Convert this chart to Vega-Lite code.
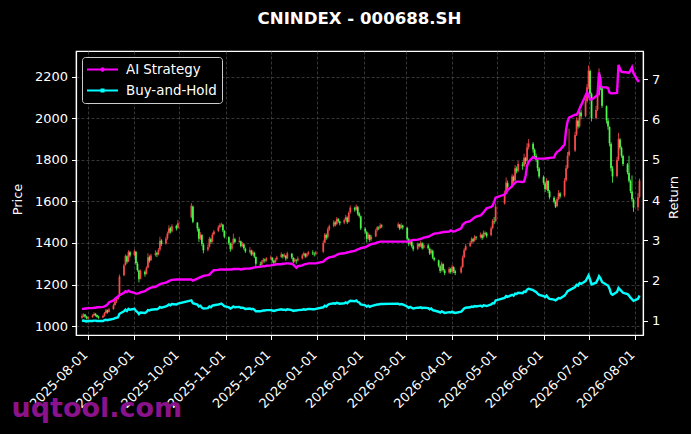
{
  "$schema": "https://vega.github.io/schema/vega-lite/v6.json",
  "width": 567,
  "height": 284,
  "autosize": "none",
  "padding": {"left": 76, "top": 51, "right": 48, "bottom": 99},
  "background": "#000000",
  "title": {
    "text": "CNINDEX - 000688.SH",
    "color": "#ffffff",
    "font": "DejaVu Sans",
    "fontSize": 16.6,
    "fontWeight": "bold",
    "anchor": "middle",
    "offset": 23
  },
  "config": {
    "view": {"stroke": "#ffffff", "strokeWidth": 1.2},
    "axis": {
      "labelFont": "DejaVu Sans",
      "labelFontSize": 13,
      "labelColor": "#ffffff",
      "titleFont": "DejaVu Sans",
      "titleFontSize": 13,
      "titleColor": "#ffffff",
      "titleFontWeight": "normal",
      "tickColor": "#ffffff",
      "tickSize": 4.5,
      "tickWidth": 1,
      "domainColor": "#ffffff",
      "domainWidth": 1.2,
      "gridColor": "#5a5a5a",
      "gridDash": [3, 2],
      "gridWidth": 0.6,
      "labelPadding": 4
    }
  },
  "data": {
    "values": [
      {"d":"2025-07-28","o":1040,"h":1060,"l":1035,"c":1048,"a":1.30,"b":1.00},
      {"d":"2025-07-29","o":1046,"h":1062,"l":1042,"c":1055,"a":1.30,"b":1.01},
      {"d":"2025-07-30","o":1056,"h":1058,"l":1040,"c":1046,"a":1.31,"b":1.00},
      {"d":"2025-07-31","o":1045,"h":1050,"l":1032,"c":1038,"a":1.31,"b":0.99},
      {"d":"2025-08-01","o":1036,"h":1048,"l":1030,"c":1042,"a":1.32,"b":1.00},
      {"d":"2025-08-04","o":1043,"h":1056,"l":1040,"c":1050,"a":1.32,"b":1.00},
      {"d":"2025-08-05","o":1051,"h":1066,"l":1048,"c":1058,"a":1.33,"b":1.01},
      {"d":"2025-08-06","o":1060,"h":1062,"l":1046,"c":1052,"a":1.33,"b":1.01},
      {"d":"2025-08-07","o":1053,"h":1055,"l":1040,"c":1045,"a":1.34,"b":1.00},
      {"d":"2025-08-08","o":1046,"h":1050,"l":1035,"c":1040,"a":1.34,"b":1.00},
      {"d":"2025-08-11","o":1041,"h":1055,"l":1038,"c":1048,"a":1.35,"b":1.00},
      {"d":"2025-08-12","o":1049,"h":1068,"l":1045,"c":1062,"a":1.36,"b":1.02},
      {"d":"2025-08-13","o":1063,"h":1082,"l":1058,"c":1075,"a":1.38,"b":1.03},
      {"d":"2025-08-14","o":1076,"h":1080,"l":1060,"c":1068,"a":1.41,"b":1.02},
      {"d":"2025-08-15","o":1069,"h":1088,"l":1065,"c":1080,"a":1.46,"b":1.03},
      {"d":"2025-08-18","o":1082,"h":1108,"l":1078,"c":1100,"a":1.51,"b":1.05},
      {"d":"2025-08-19","o":1102,"h":1125,"l":1098,"c":1118,"a":1.55,"b":1.07},
      {"d":"2025-08-20","o":1119,"h":1140,"l":1110,"c":1128,"a":1.58,"b":1.08},
      {"d":"2025-08-21","o":1130,"h":1150,"l":1125,"c":1142,"a":1.60,"b":1.09},
      {"d":"2025-08-22","o":1145,"h":1248,"l":1140,"c":1238,"a":1.64,"b":1.18},
      {"d":"2025-08-25","o":1245,"h":1300,"l":1240,"c":1292,"a":1.70,"b":1.24},
      {"d":"2025-08-26","o":1295,"h":1345,"l":1290,"c":1338,"a":1.74,"b":1.28},
      {"d":"2025-08-27","o":1336,"h":1340,"l":1300,"c":1310,"a":1.72,"b":1.25},
      {"d":"2025-08-28","o":1312,"h":1365,"l":1308,"c":1356,"a":1.75,"b":1.30},
      {"d":"2025-08-29","o":1355,"h":1362,"l":1330,"c":1340,"a":1.73,"b":1.28},
      {"d":"2025-09-01","o":1342,"h":1368,"l":1335,"c":1360,"a":1.70,"b":1.30},
      {"d":"2025-09-02","o":1358,"h":1360,"l":1295,"c":1302,"a":1.68,"b":1.25},
      {"d":"2025-09-03","o":1300,"h":1310,"l":1262,"c":1270,"a":1.68,"b":1.22},
      {"d":"2025-09-04","o":1268,"h":1272,"l":1210,"c":1225,"a":1.69,"b":1.17},
      {"d":"2025-09-05","o":1228,"h":1272,"l":1225,"c":1265,"a":1.71,"b":1.21},
      {"d":"2025-09-08","o":1262,"h":1268,"l":1238,"c":1250,"a":1.74,"b":1.20},
      {"d":"2025-09-09","o":1252,"h":1288,"l":1248,"c":1280,"a":1.77,"b":1.22},
      {"d":"2025-09-10","o":1282,"h":1350,"l":1278,"c":1330,"a":1.79,"b":1.27},
      {"d":"2025-09-11","o":1332,"h":1340,"l":1305,"c":1315,"a":1.81,"b":1.26},
      {"d":"2025-09-12","o":1318,"h":1348,"l":1312,"c":1340,"a":1.83,"b":1.28},
      {"d":"2025-09-15","o":1342,"h":1365,"l":1335,"c":1350,"a":1.85,"b":1.29},
      {"d":"2025-09-16","o":1352,"h":1358,"l":1332,"c":1345,"a":1.87,"b":1.29},
      {"d":"2025-09-17","o":1346,"h":1375,"l":1340,"c":1365,"a":1.89,"b":1.31},
      {"d":"2025-09-18","o":1368,"h":1430,"l":1360,"c":1410,"a":1.91,"b":1.35},
      {"d":"2025-09-19","o":1412,"h":1418,"l":1385,"c":1395,"a":1.93,"b":1.33},
      {"d":"2025-09-22","o":1398,"h":1430,"l":1392,"c":1420,"a":1.95,"b":1.36},
      {"d":"2025-09-23","o":1422,"h":1455,"l":1415,"c":1445,"a":1.97,"b":1.38},
      {"d":"2025-09-24","o":1448,"h":1485,"l":1440,"c":1470,"a":1.99,"b":1.41},
      {"d":"2025-09-25","o":1472,"h":1478,"l":1445,"c":1455,"a":2.01,"b":1.39},
      {"d":"2025-09-26","o":1456,"h":1490,"l":1450,"c":1480,"a":2.02,"b":1.42},
      {"d":"2025-09-29","o":1482,"h":1488,"l":1460,"c":1470,"a":2.03,"b":1.41},
      {"d":"2025-09-30","o":1472,"h":1510,"l":1468,"c":1495,"a":2.03,"b":1.43},
      {"d":"2025-10-09","o":1525,"h":1592,"l":1518,"c":1580,"a":2.03,"b":1.51},
      {"d":"2025-10-10","o":1575,"h":1580,"l":1495,"c":1502,"a":2.00,"b":1.44},
      {"d":"2025-10-13","o":1498,"h":1500,"l":1455,"c":1470,"a":2.05,"b":1.41},
      {"d":"2025-10-14","o":1468,"h":1475,"l":1405,"c":1420,"a":2.07,"b":1.36},
      {"d":"2025-10-15","o":1422,"h":1452,"l":1415,"c":1440,"a":2.09,"b":1.38},
      {"d":"2025-10-16","o":1438,"h":1442,"l":1385,"c":1395,"a":2.10,"b":1.33},
      {"d":"2025-10-17","o":1392,"h":1400,"l":1350,"c":1365,"a":2.12,"b":1.31},
      {"d":"2025-10-20","o":1368,"h":1392,"l":1360,"c":1380,"a":2.14,"b":1.32},
      {"d":"2025-10-21","o":1382,"h":1430,"l":1378,"c":1420,"a":2.15,"b":1.36},
      {"d":"2025-10-22","o":1418,"h":1425,"l":1395,"c":1405,"a":2.19,"b":1.34},
      {"d":"2025-10-23","o":1408,"h":1450,"l":1402,"c":1440,"a":2.23,"b":1.38},
      {"d":"2025-10-24","o":1442,"h":1462,"l":1436,"c":1455,"a":2.26,"b":1.39},
      {"d":"2025-10-27","o":1458,"h":1485,"l":1452,"c":1475,"a":2.27,"b":1.41},
      {"d":"2025-10-28","o":1476,"h":1495,"l":1470,"c":1485,"a":2.28,"b":1.42},
      {"d":"2025-10-29","o":1486,"h":1498,"l":1478,"c":1490,"a":2.28,"b":1.43},
      {"d":"2025-10-30","o":1488,"h":1492,"l":1452,"c":1460,"a":2.28,"b":1.40},
      {"d":"2025-10-31","o":1458,"h":1462,"l":1422,"c":1430,"a":2.28,"b":1.37},
      {"d":"2025-11-03","o":1428,"h":1432,"l":1390,"c":1400,"a":2.28,"b":1.34},
      {"d":"2025-11-04","o":1398,"h":1402,"l":1358,"c":1370,"a":2.28,"b":1.31},
      {"d":"2025-11-05","o":1372,"h":1405,"l":1365,"c":1395,"a":2.28,"b":1.33},
      {"d":"2025-11-06","o":1398,"h":1445,"l":1392,"c":1420,"a":2.29,"b":1.36},
      {"d":"2025-11-07","o":1418,"h":1425,"l":1398,"c":1405,"a":2.29,"b":1.34},
      {"d":"2025-11-10","o":1405,"h":1430,"l":1400,"c":1410,"a":2.29,"b":1.35},
      {"d":"2025-11-11","o":1408,"h":1412,"l":1378,"c":1385,"a":2.28,"b":1.33},
      {"d":"2025-11-12","o":1386,"h":1405,"l":1380,"c":1395,"a":2.29,"b":1.33},
      {"d":"2025-11-13","o":1393,"h":1398,"l":1368,"c":1375,"a":2.29,"b":1.32},
      {"d":"2025-11-14","o":1372,"h":1378,"l":1352,"c":1360,"a":2.30,"b":1.30},
      {"d":"2025-11-17","o":1358,"h":1380,"l":1350,"c":1365,"a":2.30,"b":1.31},
      {"d":"2025-11-18","o":1362,"h":1368,"l":1338,"c":1345,"a":2.31,"b":1.29},
      {"d":"2025-11-19","o":1346,"h":1365,"l":1340,"c":1355,"a":2.32,"b":1.30},
      {"d":"2025-11-20","o":1352,"h":1358,"l":1328,"c":1335,"a":2.33,"b":1.28},
      {"d":"2025-11-21","o":1332,"h":1336,"l":1285,"c":1300,"a":2.33,"b":1.24},
      {"d":"2025-11-24","o":1298,"h":1310,"l":1280,"c":1295,"a":2.35,"b":1.24},
      {"d":"2025-11-25","o":1296,"h":1318,"l":1290,"c":1310,"a":2.35,"b":1.25},
      {"d":"2025-11-26","o":1311,"h":1328,"l":1305,"c":1320,"a":2.36,"b":1.26},
      {"d":"2025-11-27","o":1320,"h":1325,"l":1305,"c":1315,"a":2.36,"b":1.26},
      {"d":"2025-11-28","o":1316,"h":1332,"l":1310,"c":1325,"a":2.37,"b":1.27},
      {"d":"2025-12-01","o":1326,"h":1340,"l":1318,"c":1330,"a":2.38,"b":1.27},
      {"d":"2025-12-02","o":1328,"h":1332,"l":1305,"c":1315,"a":2.39,"b":1.26},
      {"d":"2025-12-03","o":1314,"h":1318,"l":1292,"c":1305,"a":2.39,"b":1.25},
      {"d":"2025-12-04","o":1306,"h":1328,"l":1300,"c":1320,"a":2.40,"b":1.26},
      {"d":"2025-12-05","o":1322,"h":1338,"l":1315,"c":1330,"a":2.41,"b":1.27},
      {"d":"2025-12-08","o":1332,"h":1355,"l":1328,"c":1345,"a":2.41,"b":1.29},
      {"d":"2025-12-09","o":1344,"h":1348,"l":1325,"c":1335,"a":2.42,"b":1.28},
      {"d":"2025-12-10","o":1336,"h":1350,"l":1330,"c":1340,"a":2.42,"b":1.28},
      {"d":"2025-12-11","o":1338,"h":1342,"l":1315,"c":1325,"a":2.43,"b":1.27},
      {"d":"2025-12-12","o":1326,"h":1358,"l":1322,"c":1350,"a":2.43,"b":1.29},
      {"d":"2025-12-15","o":1348,"h":1352,"l":1322,"c":1330,"a":2.42,"b":1.27},
      {"d":"2025-12-16","o":1328,"h":1332,"l":1302,"c":1310,"a":2.40,"b":1.25},
      {"d":"2025-12-17","o":1312,"h":1328,"l":1305,"c":1320,"a":2.36,"b":1.26},
      {"d":"2025-12-18","o":1318,"h":1322,"l":1300,"c":1315,"a":2.32,"b":1.26},
      {"d":"2025-12-19","o":1316,"h":1335,"l":1310,"c":1325,"a":2.36,"b":1.27},
      {"d":"2025-12-22","o":1326,"h":1348,"l":1320,"c":1340,"a":2.38,"b":1.28},
      {"d":"2025-12-23","o":1342,"h":1358,"l":1336,"c":1350,"a":2.40,"b":1.29},
      {"d":"2025-12-24","o":1348,"h":1352,"l":1328,"c":1335,"a":2.41,"b":1.28},
      {"d":"2025-12-25","o":1336,"h":1352,"l":1330,"c":1345,"a":2.42,"b":1.29},
      {"d":"2025-12-26","o":1346,"h":1362,"l":1340,"c":1355,"a":2.43,"b":1.30},
      {"d":"2025-12-29","o":1354,"h":1365,"l":1342,"c":1350,"a":2.43,"b":1.29},
      {"d":"2025-12-30","o":1348,"h":1355,"l":1335,"c":1345,"a":2.43,"b":1.29},
      {"d":"2025-12-31","o":1346,"h":1362,"l":1340,"c":1355,"a":2.43,"b":1.30},
      {"d":"2026-01-05","o":1358,"h":1412,"l":1352,"c":1400,"a":2.47,"b":1.34},
      {"d":"2026-01-06","o":1402,"h":1448,"l":1398,"c":1440,"a":2.51,"b":1.38},
      {"d":"2026-01-07","o":1438,"h":1445,"l":1415,"c":1425,"a":2.54,"b":1.36},
      {"d":"2026-01-08","o":1428,"h":1475,"l":1420,"c":1465,"a":2.56,"b":1.40},
      {"d":"2026-01-09","o":1466,"h":1488,"l":1458,"c":1480,"a":2.58,"b":1.42},
      {"d":"2026-01-12","o":1482,"h":1510,"l":1475,"c":1500,"a":2.60,"b":1.44},
      {"d":"2026-01-13","o":1498,"h":1505,"l":1480,"c":1490,"a":2.62,"b":1.43},
      {"d":"2026-01-14","o":1492,"h":1525,"l":1486,"c":1515,"a":2.64,"b":1.45},
      {"d":"2026-01-15","o":1514,"h":1520,"l":1498,"c":1505,"a":2.66,"b":1.44},
      {"d":"2026-01-16","o":1503,"h":1508,"l":1485,"c":1495,"a":2.67,"b":1.43},
      {"d":"2026-01-19","o":1498,"h":1518,"l":1490,"c":1510,"a":2.68,"b":1.44},
      {"d":"2026-01-20","o":1512,"h":1535,"l":1505,"c":1525,"a":2.69,"b":1.46},
      {"d":"2026-01-21","o":1522,"h":1528,"l":1492,"c":1500,"a":2.70,"b":1.44},
      {"d":"2026-01-22","o":1502,"h":1552,"l":1498,"c":1545,"a":2.71,"b":1.48},
      {"d":"2026-01-23","o":1548,"h":1580,"l":1540,"c":1570,"a":2.72,"b":1.50},
      {"d":"2026-01-26","o":1568,"h":1575,"l":1550,"c":1560,"a":2.74,"b":1.49},
      {"d":"2026-01-27","o":1562,"h":1585,"l":1555,"c":1575,"a":2.76,"b":1.51},
      {"d":"2026-01-28","o":1572,"h":1578,"l":1532,"c":1540,"a":2.78,"b":1.47},
      {"d":"2026-01-29","o":1542,"h":1548,"l":1522,"c":1530,"a":2.79,"b":1.46},
      {"d":"2026-01-30","o":1528,"h":1532,"l":1462,"c":1470,"a":2.81,"b":1.41},
      {"d":"2026-02-02","o":1468,"h":1475,"l":1445,"c":1455,"a":2.83,"b":1.39},
      {"d":"2026-02-03","o":1452,"h":1458,"l":1402,"c":1420,"a":2.85,"b":1.36},
      {"d":"2026-02-04","o":1422,"h":1450,"l":1415,"c":1440,"a":2.87,"b":1.38},
      {"d":"2026-02-05","o":1438,"h":1442,"l":1405,"c":1415,"a":2.89,"b":1.35},
      {"d":"2026-02-06","o":1418,"h":1438,"l":1410,"c":1430,"a":2.91,"b":1.37},
      {"d":"2026-02-09","o":1432,"h":1468,"l":1428,"c":1460,"a":2.93,"b":1.40},
      {"d":"2026-02-10","o":1462,"h":1482,"l":1455,"c":1475,"a":2.95,"b":1.41},
      {"d":"2026-02-11","o":1474,"h":1480,"l":1462,"c":1470,"a":2.96,"b":1.41},
      {"d":"2026-02-12","o":1472,"h":1495,"l":1468,"c":1485,"a":2.97,"b":1.42},
      {"d":"2026-02-13","o":1484,"h":1490,"l":1472,"c":1480,"a":2.97,"b":1.42},
      {"d":"2026-02-24","o":1478,"h":1500,"l":1472,"c":1490,"a":2.97,"b":1.43},
      {"d":"2026-02-25","o":1488,"h":1492,"l":1462,"c":1470,"a":2.97,"b":1.41},
      {"d":"2026-02-26","o":1472,"h":1495,"l":1468,"c":1485,"a":2.97,"b":1.42},
      {"d":"2026-02-27","o":1484,"h":1488,"l":1465,"c":1475,"a":2.97,"b":1.41},
      {"d":"2026-03-02","o":1472,"h":1478,"l":1412,"c":1420,"a":2.97,"b":1.36},
      {"d":"2026-03-03","o":1418,"h":1425,"l":1385,"c":1395,"a":2.97,"b":1.33},
      {"d":"2026-03-04","o":1396,"h":1418,"l":1390,"c":1410,"a":2.99,"b":1.35},
      {"d":"2026-03-05","o":1408,"h":1412,"l":1378,"c":1385,"a":3.00,"b":1.33},
      {"d":"2026-03-06","o":1384,"h":1392,"l":1360,"c":1370,"a":3.01,"b":1.31},
      {"d":"2026-03-09","o":1372,"h":1402,"l":1366,"c":1395,"a":3.02,"b":1.33},
      {"d":"2026-03-10","o":1394,"h":1400,"l":1378,"c":1385,"a":3.03,"b":1.33},
      {"d":"2026-03-11","o":1386,"h":1410,"l":1380,"c":1400,"a":3.04,"b":1.34},
      {"d":"2026-03-12","o":1398,"h":1404,"l":1368,"c":1375,"a":3.05,"b":1.32},
      {"d":"2026-03-13","o":1376,"h":1398,"l":1370,"c":1390,"a":3.07,"b":1.33},
      {"d":"2026-03-16","o":1388,"h":1395,"l":1368,"c":1375,"a":3.09,"b":1.32},
      {"d":"2026-03-17","o":1372,"h":1378,"l":1342,"c":1350,"a":3.11,"b":1.29},
      {"d":"2026-03-18","o":1352,"h":1372,"l":1345,"c":1365,"a":3.13,"b":1.31},
      {"d":"2026-03-19","o":1362,"h":1368,"l":1322,"c":1330,"a":3.15,"b":1.27},
      {"d":"2026-03-20","o":1328,"h":1334,"l":1312,"c":1320,"a":3.17,"b":1.26},
      {"d":"2026-03-23","o":1316,"h":1320,"l":1282,"c":1290,"a":3.18,"b":1.23},
      {"d":"2026-03-24","o":1288,"h":1295,"l":1255,"c":1265,"a":3.19,"b":1.21},
      {"d":"2026-03-25","o":1268,"h":1310,"l":1262,"c":1300,"a":3.20,"b":1.24},
      {"d":"2026-03-26","o":1298,"h":1302,"l":1262,"c":1270,"a":3.21,"b":1.22},
      {"d":"2026-03-27","o":1268,"h":1275,"l":1245,"c":1255,"a":3.21,"b":1.20},
      {"d":"2026-03-30","o":1258,"h":1285,"l":1252,"c":1275,"a":3.22,"b":1.22},
      {"d":"2026-03-31","o":1274,"h":1280,"l":1252,"c":1260,"a":3.25,"b":1.21},
      {"d":"2026-04-01","o":1262,"h":1295,"l":1258,"c":1285,"a":3.23,"b":1.23},
      {"d":"2026-04-02","o":1283,"h":1288,"l":1255,"c":1265,"a":3.22,"b":1.21},
      {"d":"2026-04-03","o":1264,"h":1270,"l":1245,"c":1255,"a":3.23,"b":1.20},
      {"d":"2026-04-07","o":1258,"h":1290,"l":1252,"c":1282,"a":3.30,"b":1.23},
      {"d":"2026-04-08","o":1285,"h":1340,"l":1280,"c":1330,"a":3.39,"b":1.27},
      {"d":"2026-04-09","o":1332,"h":1375,"l":1326,"c":1365,"a":3.42,"b":1.31},
      {"d":"2026-04-10","o":1366,"h":1395,"l":1360,"c":1385,"a":3.45,"b":1.33},
      {"d":"2026-04-13","o":1386,"h":1410,"l":1380,"c":1400,"a":3.48,"b":1.34},
      {"d":"2026-04-14","o":1402,"h":1428,"l":1396,"c":1420,"a":3.51,"b":1.36},
      {"d":"2026-04-15","o":1418,"h":1424,"l":1402,"c":1410,"a":3.54,"b":1.35},
      {"d":"2026-04-16","o":1412,"h":1438,"l":1406,"c":1430,"a":3.57,"b":1.37},
      {"d":"2026-04-17","o":1428,"h":1434,"l":1415,"c":1425,"a":3.59,"b":1.36},
      {"d":"2026-04-20","o":1428,"h":1450,"l":1422,"c":1440,"a":3.62,"b":1.38},
      {"d":"2026-04-21","o":1438,"h":1444,"l":1415,"c":1425,"a":3.66,"b":1.36},
      {"d":"2026-04-22","o":1428,"h":1460,"l":1422,"c":1450,"a":3.70,"b":1.39},
      {"d":"2026-04-23","o":1448,"h":1455,"l":1436,"c":1445,"a":3.75,"b":1.38},
      {"d":"2026-04-24","o":1446,"h":1452,"l":1425,"c":1435,"a":3.80,"b":1.37},
      {"d":"2026-04-27","o":1438,"h":1480,"l":1432,"c":1470,"a":3.83,"b":1.41},
      {"d":"2026-04-28","o":1472,"h":1515,"l":1466,"c":1505,"a":3.86,"b":1.44},
      {"d":"2026-04-29","o":1503,"h":1525,"l":1490,"c":1500,"a":3.95,"b":1.44},
      {"d":"2026-04-30","o":1505,"h":1590,"l":1500,"c":1575,"a":4.06,"b":1.51},
      {"d":"2026-05-06","o":1590,"h":1652,"l":1585,"c":1640,"a":4.14,"b":1.57},
      {"d":"2026-05-07","o":1642,"h":1715,"l":1636,"c":1690,"a":4.18,"b":1.62},
      {"d":"2026-05-08","o":1688,"h":1700,"l":1655,"c":1670,"a":4.25,"b":1.60},
      {"d":"2026-05-11","o":1672,"h":1732,"l":1665,"c":1720,"a":4.35,"b":1.65},
      {"d":"2026-05-12","o":1718,"h":1725,"l":1690,"c":1700,"a":4.40,"b":1.63},
      {"d":"2026-05-13","o":1702,"h":1775,"l":1696,"c":1760,"a":4.43,"b":1.68},
      {"d":"2026-05-14","o":1758,"h":1768,"l":1735,"c":1745,"a":4.46,"b":1.67},
      {"d":"2026-05-15","o":1748,"h":1795,"l":1740,"c":1780,"a":4.46,"b":1.70},
      {"d":"2026-05-18","o":1778,"h":1790,"l":1752,"c":1770,"a":4.45,"b":1.69},
      {"d":"2026-05-19","o":1772,"h":1830,"l":1765,"c":1810,"a":4.46,"b":1.73},
      {"d":"2026-05-20","o":1808,"h":1815,"l":1780,"c":1795,"a":4.60,"b":1.72},
      {"d":"2026-05-21","o":1798,"h":1880,"l":1790,"c":1860,"a":4.85,"b":1.78},
      {"d":"2026-05-22","o":1862,"h":1900,"l":1850,"c":1880,"a":4.95,"b":1.80},
      {"d":"2026-05-25","o":1878,"h":1885,"l":1835,"c":1850,"a":5.07,"b":1.77},
      {"d":"2026-05-26","o":1848,"h":1855,"l":1810,"c":1820,"a":5.05,"b":1.74},
      {"d":"2026-05-27","o":1818,"h":1830,"l":1790,"c":1800,"a":5.03,"b":1.72},
      {"d":"2026-05-28","o":1798,"h":1805,"l":1745,"c":1760,"a":5.03,"b":1.68},
      {"d":"2026-05-29","o":1758,"h":1765,"l":1710,"c":1720,"a":5.03,"b":1.65},
      {"d":"2026-06-01","o":1718,"h":1725,"l":1680,"c":1690,"a":5.03,"b":1.62},
      {"d":"2026-06-02","o":1688,"h":1695,"l":1645,"c":1660,"a":5.03,"b":1.59},
      {"d":"2026-06-03","o":1662,"h":1712,"l":1655,"c":1700,"a":5.04,"b":1.63},
      {"d":"2026-06-04","o":1698,"h":1702,"l":1640,"c":1650,"a":5.04,"b":1.58},
      {"d":"2026-06-05","o":1648,"h":1655,"l":1610,"c":1620,"a":5.05,"b":1.55},
      {"d":"2026-06-08","o":1618,"h":1625,"l":1590,"c":1600,"a":5.06,"b":1.53},
      {"d":"2026-06-09","o":1598,"h":1605,"l":1568,"c":1575,"a":5.15,"b":1.51},
      {"d":"2026-06-10","o":1578,"h":1620,"l":1572,"c":1610,"a":5.20,"b":1.54},
      {"d":"2026-06-11","o":1612,"h":1655,"l":1605,"c":1640,"a":5.22,"b":1.57},
      {"d":"2026-06-12","o":1638,"h":1645,"l":1615,"c":1625,"a":5.25,"b":1.56},
      {"d":"2026-06-15","o":1628,"h":1712,"l":1620,"c":1700,"a":5.38,"b":1.63},
      {"d":"2026-06-16","o":1702,"h":1775,"l":1695,"c":1760,"a":5.75,"b":1.68},
      {"d":"2026-06-17","o":1762,"h":1838,"l":1755,"c":1820,"a":5.95,"b":1.74},
      {"d":"2026-06-18","o":1822,"h":1950,"l":1815,"c":1840,"a":6.05,"b":1.76},
      {"d":"2026-06-22","o":1845,"h":1935,"l":1838,"c":1920,"a":6.12,"b":1.84},
      {"d":"2026-06-23","o":1922,"h":2005,"l":1915,"c":1990,"a":6.12,"b":1.90},
      {"d":"2026-06-24","o":1988,"h":1995,"l":1950,"c":1960,"a":6.18,"b":1.88},
      {"d":"2026-06-25","o":1962,"h":2060,"l":1955,"c":2030,"a":6.27,"b":1.94},
      {"d":"2026-06-26","o":2028,"h":2040,"l":1995,"c":2010,"a":6.35,"b":1.92},
      {"d":"2026-06-29","o":2012,"h":2095,"l":2005,"c":2080,"a":6.60,"b":1.99},
      {"d":"2026-06-30","o":2082,"h":2165,"l":2075,"c":2150,"a":6.68,"b":2.06},
      {"d":"2026-07-01","o":2152,"h":2255,"l":2140,"c":2230,"a":6.60,"b":2.13},
      {"d":"2026-07-02","o":2228,"h":2235,"l":2105,"c":2120,"a":6.50,"b":2.03},
      {"d":"2026-07-03","o":2118,"h":2125,"l":1985,"c":2000,"a":6.50,"b":1.91},
      {"d":"2026-07-06","o":2002,"h":2060,"l":1995,"c":2040,"a":6.58,"b":1.95},
      {"d":"2026-07-07","o":2042,"h":2125,"l":2035,"c":2110,"a":6.62,"b":2.02},
      {"d":"2026-07-08","o":2112,"h":2240,"l":2105,"c":2200,"a":7.17,"b":2.11},
      {"d":"2026-07-09","o":2198,"h":2210,"l":2135,"c":2150,"a":6.85,"b":2.06},
      {"d":"2026-07-10","o":2148,"h":2155,"l":2050,"c":2060,"a":6.80,"b":1.97},
      {"d":"2026-07-13","o":2058,"h":2062,"l":1975,"c":1990,"a":6.80,"b":1.90},
      {"d":"2026-07-14","o":1988,"h":2000,"l":1945,"c":1960,"a":6.78,"b":1.88},
      {"d":"2026-07-15","o":1958,"h":1962,"l":1865,"c":1880,"a":6.67,"b":1.80},
      {"d":"2026-07-16","o":1878,"h":1885,"l":1745,"c":1760,"a":6.65,"b":1.68},
      {"d":"2026-07-17","o":1758,"h":1770,"l":1690,"c":1720,"a":6.65,"b":1.65},
      {"d":"2026-07-20","o":1722,"h":1815,"l":1715,"c":1800,"a":6.66,"b":1.72},
      {"d":"2026-07-21","o":1802,"h":1930,"l":1795,"c":1900,"a":7.36,"b":1.82},
      {"d":"2026-07-22","o":1898,"h":1905,"l":1850,"c":1860,"a":7.25,"b":1.78},
      {"d":"2026-07-23","o":1858,"h":1865,"l":1810,"c":1820,"a":7.19,"b":1.74},
      {"d":"2026-07-24","o":1818,"h":1825,"l":1770,"c":1780,"a":7.18,"b":1.70},
      {"d":"2026-07-27","o":1778,"h":1785,"l":1730,"c":1740,"a":7.17,"b":1.67},
      {"d":"2026-07-28","o":1738,"h":1820,"l":1690,"c":1700,"a":7.16,"b":1.63},
      {"d":"2026-07-29","o":1698,"h":1705,"l":1640,"c":1650,"a":7.22,"b":1.58},
      {"d":"2026-07-30","o":1648,"h":1725,"l":1600,"c":1610,"a":7.30,"b":1.54},
      {"d":"2026-07-31","o":1608,"h":1615,"l":1550,"c":1570,"a":7.15,"b":1.50},
      {"d":"2026-08-03","o":1572,"h":1640,"l":1555,"c":1620,"a":6.96,"b":1.55},
      {"d":"2026-08-04","o":1622,"h":1710,"l":1615,"c":1700,"a":6.96,"b":1.63}
    ]
  },
  "encoding": {
    "x": {
      "field": "d",
      "type": "temporal",
      "scale": {
        "type": "utc",
        "domain": [
          {"year": 2025, "month": 7, "date": 24, "utc": true},
          {"year": 2026, "month": 8, "date": 6, "hours": 8, "utc": true}
        ],
        "nice": false
      },
      "axis": {
        "title": "uqtool.com",
        "titleColor": "#8a128a",
        "titleFont": "DejaVu Sans",
        "titleFontSize": 27,
        "titleFontWeight": "bold",
        "titleAlign": "left",
        "titleAnchor": "start",
        "titleBaseline": "alphabetic",
        "titleX": -65,
        "titleY": 81,
        "format": "%Y-%m-%d",
        "values": [
          {"year": 2025, "month": 8, "date": 1, "utc": true},
          {"year": 2025, "month": 9, "date": 1, "utc": true},
          {"year": 2025, "month": 10, "date": 1, "utc": true},
          {"year": 2025, "month": 11, "date": 1, "utc": true},
          {"year": 2025, "month": 12, "date": 1, "utc": true},
          {"year": 2026, "month": 1, "date": 1, "utc": true},
          {"year": 2026, "month": 2, "date": 1, "utc": true},
          {"year": 2026, "month": 3, "date": 1, "utc": true},
          {"year": 2026, "month": 4, "date": 1, "utc": true},
          {"year": 2026, "month": 5, "date": 1, "utc": true},
          {"year": 2026, "month": 6, "date": 1, "utc": true},
          {"year": 2026, "month": 7, "date": 1, "utc": true},
          {"year": 2026, "month": 8, "date": 1, "utc": true}
        ],
        "labelAngle": -45,
        "labelAlign": "right",
        "labelBaseline": "top",
        "labelOffset": -7,
        "labelPadding": 8.5,
        "labelOverlap": false,
        "labelFlush": false,
        "labelBound": false,
        "grid": true
      }
    }
  },
  "layer": [
    {
      "layer": [
        {
          "mark": {"type": "rule", "strokeWidth": 0.9, "opacity": 0.9},
          "encoding": {
            "y": {
              "field": "l",
              "type": "quantitative",
              "title": "Price",
              "scale": {"domain": [957, 2324], "nice": false, "zero": false},
              "axis": {
                "values": [1000, 1200, 1400, 1600, 1800, 2000, 2200],
                "format": "d",
                "grid": true,
                "titleAngle": -90,
                "titleBaseline": "bottom",
                "titleAlign": "center",
                "titleX": -52,
                "titleY": 148
              }
            },
            "y2": {"field": "h"},
            "color": {
              "condition": {"test": "datum.c >= datum.o", "value": "#ff4d4d"},
              "value": "#4dff4d"
            }
          }
        },
        {
          "mark": {"type": "rule", "strokeWidth": 1.8, "strokeCap": "butt", "opacity": 0.9},
          "encoding": {
            "y": {"field": "o", "type": "quantitative", "title": "Price"},
            "y2": {"field": "c"},
            "color": {
              "condition": {"test": "datum.c >= datum.o", "value": "#ff4d4d"},
              "value": "#4dff4d"
            }
          }
        }
      ]
    },
    {
      "layer": [
        {
          "mark": {"type": "line", "strokeWidth": 2.4},
          "encoding": {
            "y": {
              "field": "a",
              "type": "quantitative",
              "title": "Return",
              "scale": {"domain": [0.652, 7.703], "nice": false, "zero": false},
              "axis": {
                "orient": "right",
                "values": [1, 2, 3, 4, 5, 6, 7],
                "grid": false,
                "titleAngle": -90,
                "titleBaseline": "bottom",
                "titleAlign": "center",
                "titleX": 37,
                "titleY": 146
              }
            },
            "color": {
              "datum": "AI Strategy",
              "scale": {"domain": ["AI Strategy", "Buy-and-Hold"], "range": ["#ff00ff", "#00ffff"]},
              "legend": {
                "title": null,
                "orient": "top-left",
                "offset": 6,
                "padding": 5,
                "fillColor": "#000000",
                "strokeColor": "#cccccc",
                "cornerRadius": 3,
                "labelFont": "DejaVu Sans",
                "labelFontSize": 13.4,
                "labelColor": "#ffffff",
                "labelOffset": 8,
                "symbolSize": 961,
                "clipHeight": 15,
                "rowPadding": 6,
                "encode": {
                  "symbols": {
                    "update": {
                      "shape": {"signal": "datum.value === 'AI Strategy' ? 'M-1,-0.065H1V0.065H-1Z M-0.14,0A0.14,0.14 0 1,1 0.14,0A0.14,0.14 0 1,1 -0.14,0Z' : 'M-1,-0.065H1V0.065H-1Z M-0.13,-0.13H0.13V0.13H-0.13Z'"},
                      "fill": {"signal": "scale('color', datum.value)"},
                      "strokeWidth": {"value": 0}
                    }
                  }
                }
              }
            }
          }
        },
        {
          "mark": {"type": "line", "strokeWidth": 2.4},
          "encoding": {
            "y": {"field": "b", "type": "quantitative", "title": "Return"},
            "color": {"datum": "Buy-and-Hold"}
          }
        }
      ]
    }
  ],
  "resolve": {"scale": {"y": "independent"}}
}
